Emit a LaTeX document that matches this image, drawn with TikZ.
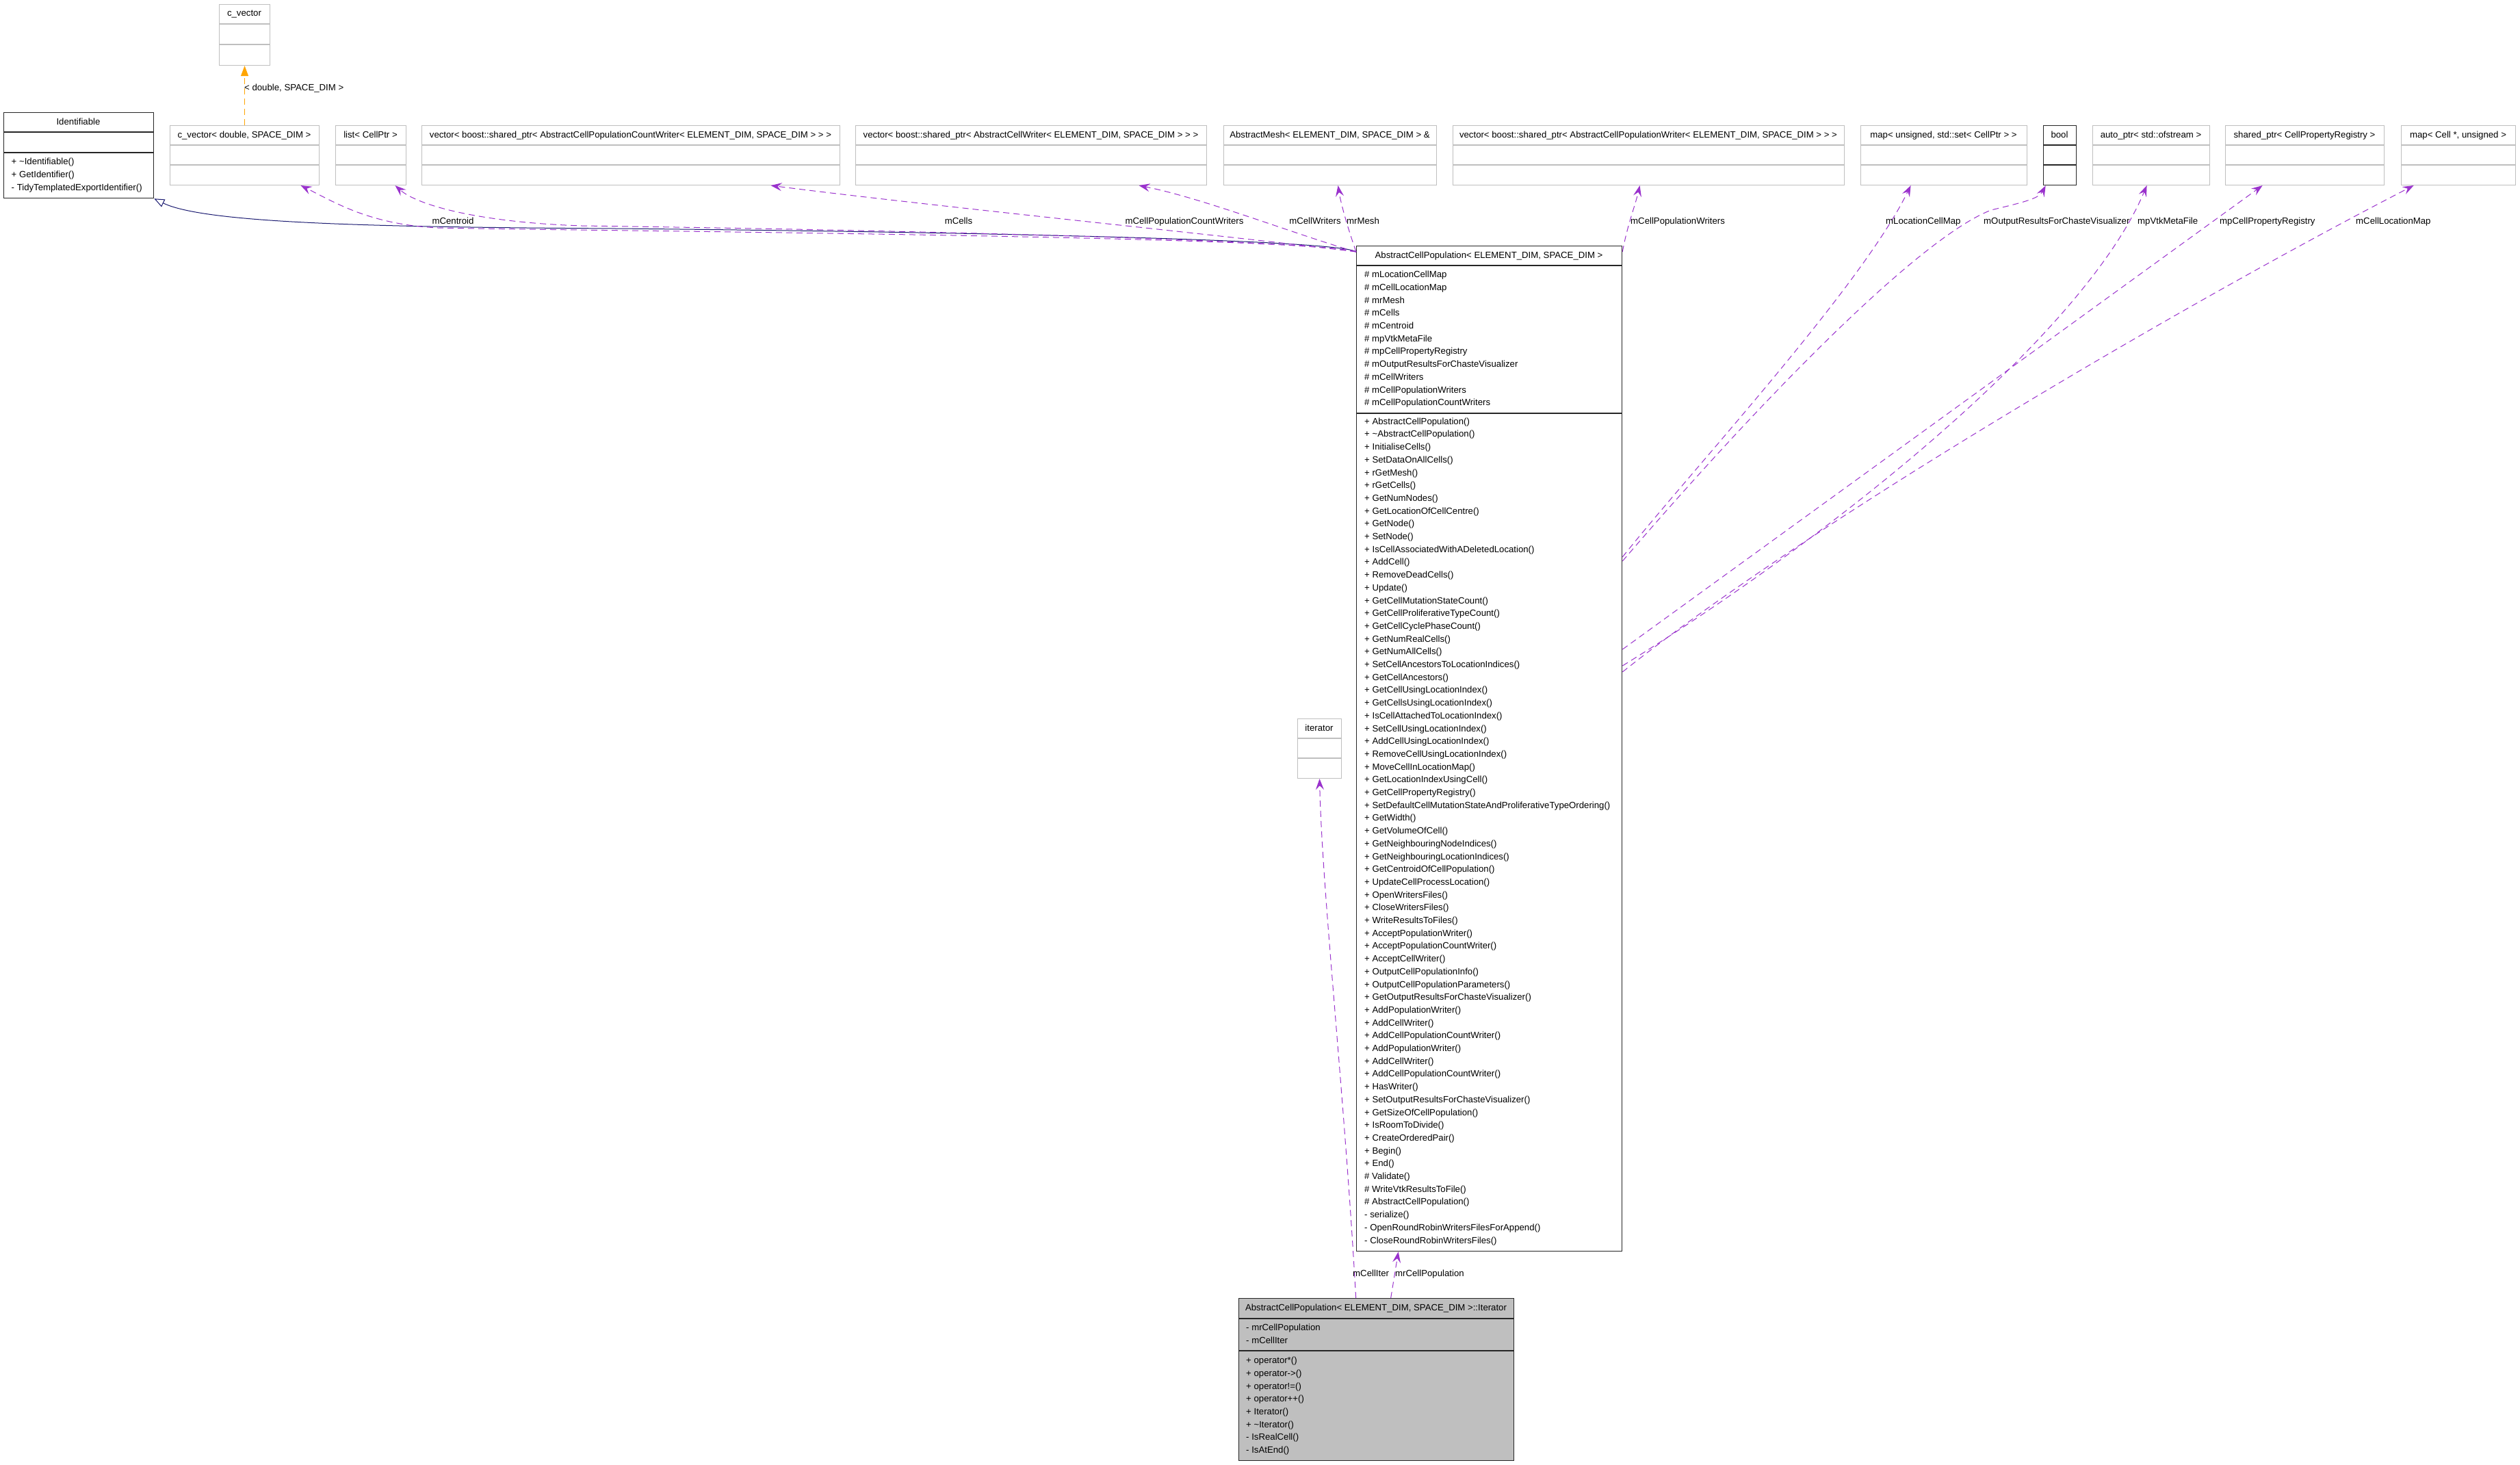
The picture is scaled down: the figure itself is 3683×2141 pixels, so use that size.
\documentclass[tikz,border=0pt]{standalone}
\usepackage{fontspec}
\setmainfont{Liberation Sans}
\usetikzlibrary{arrows.meta}
\definecolor{purp}{HTML}{9A32CD}
\definecolor{navyb}{HTML}{191970}
\definecolor{orng}{HTML}{FFA500}
\definecolor{greyb}{HTML}{BFBFBF}
% #1 name, #2 style, #3 x1, #4 x2, #5 top, #6 header bottom, #7 attr bottom, #8 bottom, #9 title
\newcommand\umlclass[9]{%
  \node[#2, anchor=north west, minimum width={(#4)-(#3)}, minimum height={(#8)-(#5)}] (#1) at (#3,#5) {};
  \draw[#2] (#3,#6) -- (#4,#6) (#3,#7) -- (#4,#7);
  \node[lbl, anchor=base] (#1-t) at ({((#3)+(#4))/2},{(#5)+18}) {#9};
}
\begin{document}
\begin{tikzpicture}[x=1pt,y=-1pt,
  lbl/.style={font=\fontsize{13.2}{18.7}\selectfont, inner sep=0pt},
  mem/.style={lbl, anchor=north west, align=left},
  ext/.style={draw=greyb, line width=1.1pt, fill=white, inner sep=0pt},
  blk/.style={draw=black!85, line width=1.3pt, fill=white, inner sep=0pt},
  itb/.style={draw=black!85, line width=1.3pt, fill=greyb, inner sep=0pt},
  assoc/.style={draw=purp, line width=1pt, dash pattern=on 9pt off 6pt,
    -{Stealth[length=16pt,width=12pt,inset=6pt]}},
  inherit/.style={draw=navyb, line width=1pt, -{Triangle[open,length=15pt,width=12pt]}},
  tmpl/.style={draw=orng, line width=1pt, dash pattern=on 9pt off 6pt,
    -{Triangle[length=15pt,width=11pt]}}]
\fill[white] (0,0) rectangle (3683,2141);
\useasboundingbox (0,0) rectangle (3683,2141);

% ---------- class boxes ----------
\umlclass{cvec}{ext}{320}{394}{6}{35}{65}{95}{c\_vector}
\umlclass{ident}{blk}{5}{224}{164}{193}{223}{289}{Identifiable}
\node[mem] (ident-m) at (16.5,230.5) {\rule{0pt}{10pt}+ \textasciitilde Identifiable()\\+ GetIdentifier()\\- TidyTemplatedExportIdentifier()};

\umlclass{cv2}{ext}{248}{466}{183}{212}{241}{270}{c\_vector< double, SPACE\_DIM >}
\umlclass{lst}{ext}{490}{593}{183}{212}{241}{270}{list< CellPtr >}
\umlclass{vcw}{ext}{616}{1227}{183}{212}{241}{270}{vector< boost::shared\_ptr< AbstractCellPopulationCountWriter< ELEMENT\_DIM, SPACE\_DIM > > >}
\umlclass{vw}{ext}{1250}{1763}{183}{212}{241}{270}{vector< boost::shared\_ptr< AbstractCellWriter< ELEMENT\_DIM, SPACE\_DIM > > >}
\umlclass{mesh}{ext}{1788}{2099}{183}{212}{241}{270}{AbstractMesh< ELEMENT\_DIM, SPACE\_DIM > \&}
\umlclass{vpw}{ext}{2123}{2695}{183}{212}{241}{270}{vector< boost::shared\_ptr< AbstractCellPopulationWriter< ELEMENT\_DIM, SPACE\_DIM > > >}
\umlclass{lcm}{ext}{2719}{2962}{183}{212}{241}{270}{map< unsigned, std::set< CellPtr > >}
\umlclass{bool}{blk}{2986}{3034}{183}{212}{241}{270}{bool}
\umlclass{aptr}{ext}{3058}{3229}{183}{212}{241}{270}{auto\_ptr< std::ofstream >}
\umlclass{spr}{ext}{3252}{3484}{183}{212}{241}{270}{shared\_ptr< CellPropertyRegistry >}
\umlclass{clm}{ext}{3509}{3676}{183}{212}{241}{270}{map< Cell *, unsigned >}

\umlclass{main}{blk}{1982}{2370}{359}{388}{604}{1828}{AbstractCellPopulation< ELEMENT\_DIM, SPACE\_DIM >}
\node[mem] (main-a) at (1994,395.5) {\rule{0pt}{10pt}\# mLocationCellMap\\\# mCellLocationMap\\\# mrMesh\\\# mCells\\\# mCentroid\\\# mpVtkMetaFile\\\# mpCellPropertyRegistry\\\# mOutputResultsForChasteVisualizer\\\# mCellWriters\\\# mCellPopulationWriters\\\# mCellPopulationCountWriters};
\node[mem] (main-m) at (1994,610) {\rule{0pt}{10pt}+ AbstractCellPopulation()\\+ \textasciitilde AbstractCellPopulation()\\+ InitialiseCells()\\+ SetDataOnAllCells()\\+ rGetMesh()\\+ rGetCells()\\+ GetNumNodes()\\+ GetLocationOfCellCentre()\\+ GetNode()\\+ SetNode()\\+ IsCellAssociatedWithADeletedLocation()\\+ AddCell()\\+ RemoveDeadCells()\\+ Update()\\+ GetCellMutationStateCount()\\+ GetCellProliferativeTypeCount()\\+ GetCellCyclePhaseCount()\\+ GetNumRealCells()\\+ GetNumAllCells()\\+ SetCellAncestorsToLocationIndices()\\+ GetCellAncestors()\\+ GetCellUsingLocationIndex()\\+ GetCellsUsingLocationIndex()\\+ IsCellAttachedToLocationIndex()\\+ SetCellUsingLocationIndex()\\+ AddCellUsingLocationIndex()\\+ RemoveCellUsingLocationIndex()\\+ MoveCellInLocationMap()\\+ GetLocationIndexUsingCell()\\+ GetCellPropertyRegistry()\\+ SetDefaultCellMutationStateAndProliferativeTypeOrdering()\\+ GetWidth()\\+ GetVolumeOfCell()\\+ GetNeighbouringNodeIndices()\\+ GetNeighbouringLocationIndices()\\+ GetCentroidOfCellPopulation()\\+ UpdateCellProcessLocation()\\+ OpenWritersFiles()\\+ CloseWritersFiles()\\+ WriteResultsToFiles()\\+ AcceptPopulationWriter()\\+ AcceptPopulationCountWriter()\\+ AcceptCellWriter()\\+ OutputCellPopulationInfo()\\+ OutputCellPopulationParameters()\\+ GetOutputResultsForChasteVisualizer()\\+ AddPopulationWriter()\\+ AddCellWriter()\\+ AddCellPopulationCountWriter()\\+ AddPopulationWriter()\\+ AddCellWriter()\\+ AddCellPopulationCountWriter()\\+ HasWriter()\\+ SetOutputResultsForChasteVisualizer()\\+ GetSizeOfCellPopulation()\\+ IsRoomToDivide()\\+ CreateOrderedPair()\\+ Begin()\\+ End()\\\# Validate()\\\# WriteVtkResultsToFile()\\\# AbstractCellPopulation()\\- serialize()\\- OpenRoundRobinWritersFilesForAppend()\\- CloseRoundRobinWritersFiles()};

\umlclass{itc}{ext}{1896}{1960}{1050}{1079}{1108}{1137}{iterator}

\umlclass{iter}{itb}{1810}{2212}{1897}{1927}{1974}{2134}{AbstractCellPopulation< ELEMENT\_DIM, SPACE\_DIM >::Iterator}
\node[mem] (iter-a) at (1821,1934.5) {\rule{0pt}{10pt}- mrCellPopulation\\- mCellIter};
\node[mem] (iter-m) at (1821,1982.5) {\rule{0pt}{10pt}+ operator*()\\+ operator->()\\+ operator!=()\\+ operator++()\\+ Iterator()\\+ \textasciitilde Iterator()\\- IsRealCell()\\- IsAtEnd()};

% ---------- connectors ----------
\coordinate (mL) at ([yshift=-9]main.north west);
\coordinate (mR) at ([yshift=-9]main.north east);

\draw[tmpl] (cv2.north) -- (cvec.south);
\node[lbl, anchor=base west] (l-tmpl) at (357,132.5) {< double, SPACE\_DIM >};

\draw[inherit] (mL) .. controls (1960,352) and (1500,340) .. (900,334) .. controls (560,332) and (300,327) .. (ident.south east);

\draw[assoc] (mL) .. controls (1900,345) and (900,338) .. (640,333) .. controls (540,328) and (490,296) .. ([xshift=82]cv2.south);
\draw[assoc] (mL) .. controls (1900,350) and (1300,336) .. (850,330) .. controls (700,325) and (610,300) .. ([xshift=35.5]lst.south);
\draw[assoc] (mL) .. controls (1800,345) and (1350,300) .. ([xshift=204.5]vcw.south);
\draw[assoc] (mL) .. controls (1900,345) and (1760,290) .. ([xshift=157.5]vw.south);
\draw[assoc] (mL) .. controls (1972,340) and (1960,300) .. ([xshift=11.5]mesh.south);

\draw[assoc] (mR) .. controls (2378,330) and (2390,300) .. ([xshift=-13]vpw.south);
\draw[assoc] ([yshift=-455]main.north east) .. controls (2470,690) and (2720,420) .. ([xshift=-48.5]lcm.south);
\draw[assoc] ([yshift=-461]main.north east) .. controls (2560,600) and (2800,350) .. (2910,307) .. controls (2960,295) and (2980,290) .. ([xshift=-21]bool.south);
\draw[assoc] ([yshift=-614]main.north east) .. controls (2700,770) and (3050,480) .. ([xshift=-6.5]aptr.south);
\draw[assoc] ([yshift=-590]main.north east) -- ([xshift=-62]spr.south);
\draw[assoc] ([yshift=-623]main.north east) .. controls (2650,760) and (3200,440) .. ([xshift=-65.5]clm.south);

\draw[assoc] ([xshift=-30]iter.north) .. controls (1965,1600) and (1932,1300) .. (itc.south);
\draw[assoc] ([xshift=21]iter.north) -- ([xshift=-133]main.south);

% ---------- edge labels ----------
\node[lbl, anchor=base] (l-cen) at (662,327.5) {mCentroid};
\node[lbl, anchor=base] (l-cells) at (1401,327.5) {mCells};
\node[lbl, anchor=base] (l-pcw) at (1731,327.5) {mCellPopulationCountWriters};
\node[lbl, anchor=base] (l-cw) at (1922,327.5) {mCellWriters};
\node[lbl, anchor=base west] (l-mesh) at (1968,327.5) {mrMesh};
\node[lbl, anchor=base west] (l-pw) at (2383,327.5) {mCellPopulationWriters};
\node[lbl, anchor=base west] (l-lcm) at (2756,327.5) {mLocationCellMap};
\node[lbl, anchor=base west] (l-out) at (2899,327.5) {mOutputResultsForChasteVisualizer};
\node[lbl, anchor=base west] (l-vtk) at (3124,327.5) {mpVtkMetaFile};
\node[lbl, anchor=base west] (l-reg) at (3244,327.5) {mpCellPropertyRegistry};
\node[lbl, anchor=base west] (l-clm) at (3443,327.5) {mCellLocationMap};
\node[lbl, anchor=base west] (l-it) at (1977,1865.5) {mCellIter};
\node[lbl, anchor=base west] (l-pop) at (2039,1865.5) {mrCellPopulation};
\end{tikzpicture}
\end{document}
